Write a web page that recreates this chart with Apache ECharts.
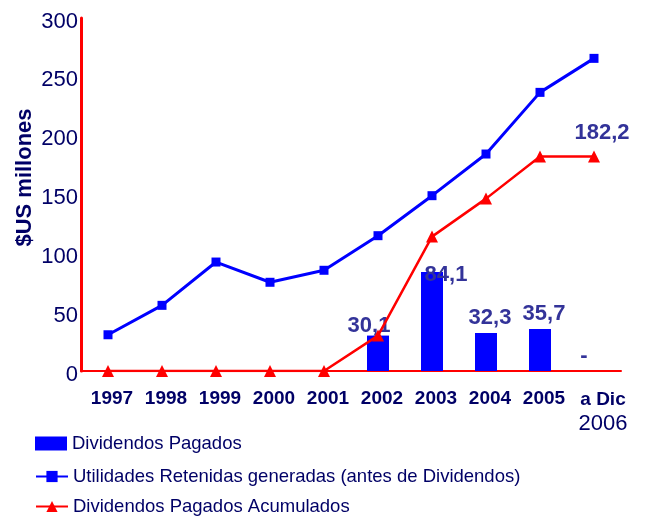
<!DOCTYPE html>
<html>
<head>
<meta charset="utf-8">
<script src="https://cdn.jsdelivr.net/npm/echarts@6/dist/echarts.min.js"></script>
<style>
  html, body { margin: 0; padding: 0; background: #fff; }
  #chart { width: 668px; height: 516px; }
</style>
</head>
<body>
<div id="chart"></div>
<script>
// data
var years = ['1997', '1998', '1999', '2000', '2001', '2002', '2003', '2004', '2005', 'a Dic 2006'];
var dividendos = [null, null, null, null, null, 30.1, 84.1, 32.3, 35.7, 0];
var utilidades = [30.8, 55.8, 92.6, 75.4, 85.6, 115, 149, 184.4, 236.8, 265.7];
var acumulados = [0, 0, 0, 0, 0, 30.1, 114.2, 146.5, 182.2, 182.2];
var yTicks = [0, 50, 100, 150, 200, 250, 300];
var legendNames = ['Dividendos Pagados', 'Utilidades Retenidas generadas (antes de Dividendos)', 'Dividendos Pagados Acumulados'];

var navy = '#000066';
var labelColor = '#333399';
var font = 'Arial, "Liberation Sans", sans-serif';

// nudges so the value labels sit like in the original
var barLabelOffsets = [null, null, null, null, null, [-9, 6], [14, 19], [4, 1], [4, 1], [-10, 1]];

var barData = dividendos.map(function (v, i) {
  if (v === null) return null;
  return { value: v, label: { offset: barLabelOffsets[i] } };
});

var redData = acumulados.map(function (v, i) {
  if (i === acumulados.length - 1) {
    return { value: v, label: { show: true, offset: [8, -2] } };
  }
  return v;
});

// one legend per row so they stack like the original
var legendTops = [434, 467, 497];
var legendIcons = ['rect', null, null];
var legends = legendNames.map(function (n, i) {
  var item = { name: n };
  if (legendIcons[i]) item.icon = legendIcons[i];
  return {
    data: [item],
    left: 35,
    top: legendTops[i],
    padding: 0,
    itemWidth: 32,
    itemHeight: 14,
    textStyle: { fontSize: 18.5, color: navy, fontFamily: font }
  };
});

var chart = echarts.init(document.getElementById('chart'));
chart.setOption({
  animation: false,
  textStyle: { fontFamily: font },
  grid: { left: 81, right: 47, top: 18, bottom: 145, containLabel: false, outerBoundsMode: 'none' },
  legend: legends,
  xAxis: {
    type: 'category',
    data: years,
    axisLine: { lineStyle: { color: '#ff0000', width: 2 } },
    axisTick: { show: false },
    axisLabel: {
      interval: 0,
      margin: 18,
      color: navy,
      fontSize: 19,
      fontWeight: 'bold',
      padding: [0, 0, 0, 8],
      formatter: function (v) {
        if (v === 'a Dic 2006') return '{b|a Dic}\n{n|2006}';
        return v;
      },
      rich: {
        b: { fontSize: 19, fontWeight: 'bold', color: navy, padding: [0, 0, 0, 10], lineHeight: 22 },
        n: { fontSize: 22, fontWeight: 'normal', color: navy, padding: [0, 0, 0, 10], lineHeight: 26 }
      }
    }
  },
  yAxis: {
    type: 'value',
    min: yTicks[0],
    max: yTicks[yTicks.length - 1],
    interval: 50,
    name: '$US millones',
    nameLocation: 'middle',
    nameGap: 45,
    nameMoveOverlap: false,
    nameTextStyle: { color: navy, fontSize: 22, fontWeight: 'bold', padding: [0, 0, 0, 34] },
    axisLine: { show: true, lineStyle: { color: '#ff0000', width: 3 } },
    axisTick: { show: false },
    splitLine: { show: false },
    axisLabel: { color: navy, fontSize: 22, margin: 3, verticalAlign: 'top', lineHeight: 7 }
  },
  series: [
    {
      name: legendNames[0],
      type: 'bar',
      data: barData,
      barWidth: 22,
      itemStyle: { color: '#0000ff' },
      label: {
        show: true,
        position: 'top',
        color: labelColor,
        fontSize: 22,
        fontWeight: 'bold',
        formatter: function (p) {
          if (p.value === 0) return '-';
          return String(p.value).replace('.', ',');
        }
      }
    },
    {
      name: legendNames[1],
      type: 'line',
      data: utilidades,
      symbol: 'rect',
      symbolSize: 9,
      z: 3,
      lineStyle: { color: '#0000ff', width: 3 },
      itemStyle: { color: '#0000ff' }
    },
    {
      name: legendNames[2],
      type: 'line',
      data: redData,
      symbol: 'triangle',
      symbolSize: 12,
      z: 4,
      lineStyle: { color: '#ff0000', width: 2.5 },
      itemStyle: { color: '#ff0000' },
      label: {
        show: false,
        position: 'top',
        color: labelColor,
        fontSize: 22,
        fontWeight: 'bold',
        formatter: function (p) { return String(p.value).replace('.', ','); }
      }
    }
  ]
});
</script>
</body>
</html>
